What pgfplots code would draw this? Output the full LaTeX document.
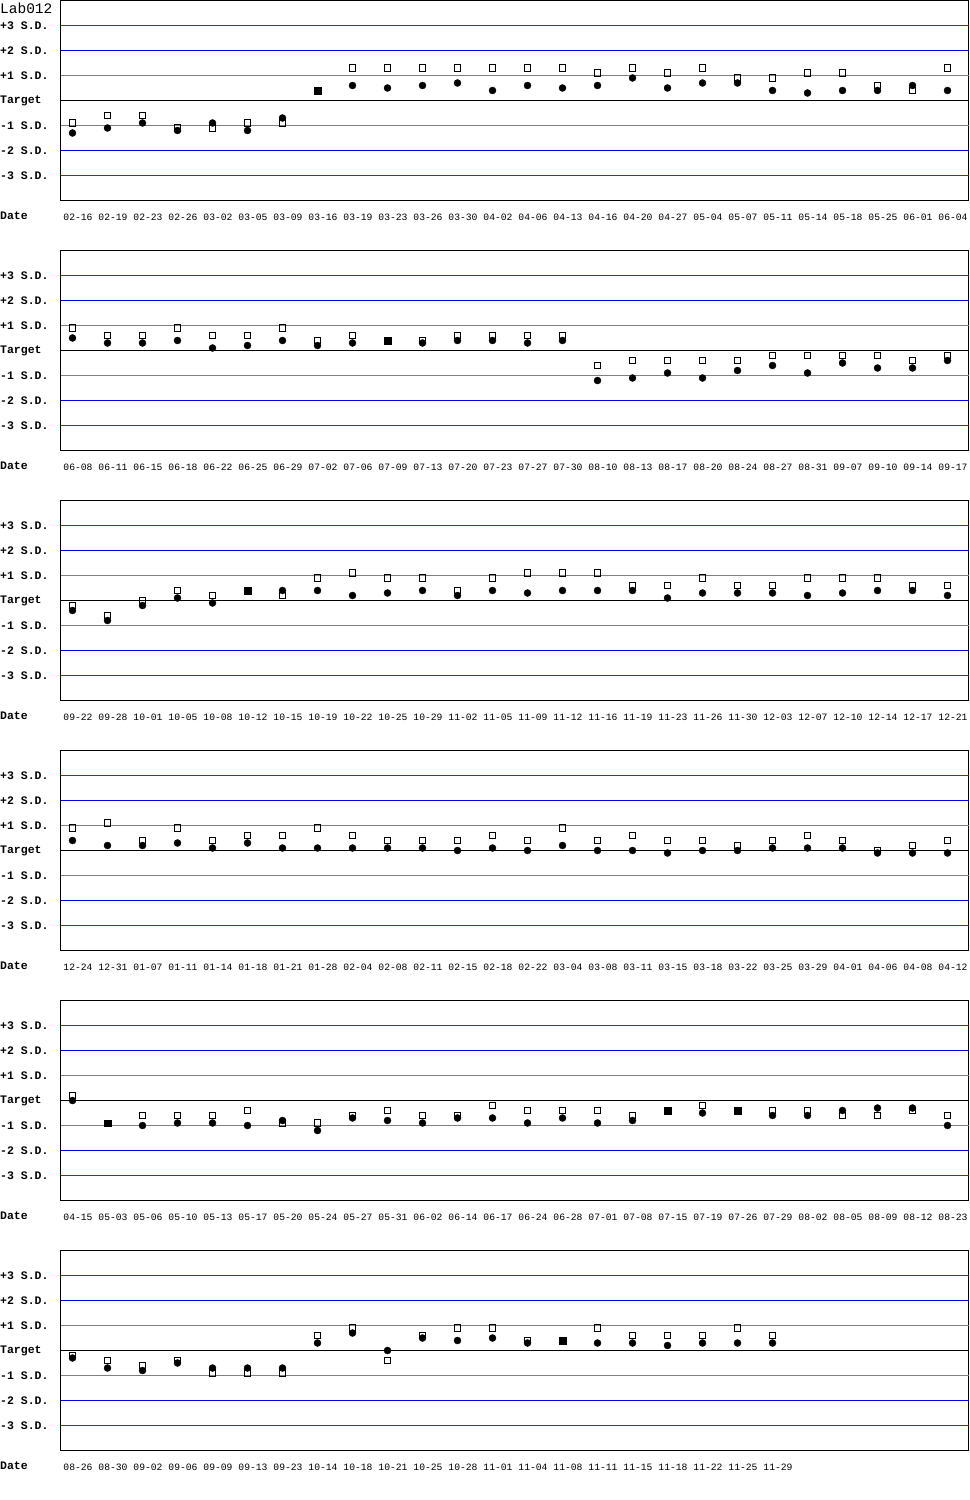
\documentclass[border=0pt]{standalone}
\usepackage{fontspec}
\setmainfont{Liberation Mono}
\usepackage{pgfplots}
\usepackage{pgfplotstable}
\pgfplotsset{compat=1.18}
\definecolor{qred}{RGB}{210,0,0}
\definecolor{qblue}{RGB}{0,0,230}
\definecolor{qgray}{RGB}{128,128,128}

\pgfplotstableread{
i sq ci fs
0 -0.9 -1.3 nan
1 -0.6 -1.1 nan
2 -0.6 -0.9 nan
3 -1.1 -1.2 nan
4 -1.1 -0.9 nan
5 -0.9 -1.2 nan
6 -0.9 -0.7 nan
7 nan nan 0.4
8 1.3 0.6 nan
9 1.3 0.5 nan
10 1.3 0.6 nan
11 1.3 0.7 nan
12 1.3 0.4 nan
13 1.3 0.6 nan
14 1.3 0.5 nan
15 1.1 0.6 nan
16 1.3 0.9 nan
17 1.1 0.5 nan
18 1.3 0.7 nan
19 0.9 0.7 nan
20 0.9 0.4 nan
21 1.1 0.3 nan
22 1.1 0.4 nan
23 0.6 0.4 nan
24 0.4 0.6 nan
25 1.3 0.4 nan
}\tA

\pgfplotstableread{
i sq ci fs
0 0.9 0.5 nan
1 0.6 0.3 nan
2 0.6 0.3 nan
3 0.9 0.4 nan
4 0.6 0.1 nan
5 0.6 0.2 nan
6 0.9 0.4 nan
7 0.4 0.2 nan
8 0.6 0.3 nan
9 nan nan 0.4
10 0.4 0.3 nan
11 0.6 0.4 nan
12 0.6 0.4 nan
13 0.6 0.3 nan
14 0.6 0.4 nan
15 -0.6 -1.2 nan
16 -0.4 -1.1 nan
17 -0.4 -0.9 nan
18 -0.4 -1.1 nan
19 -0.4 -0.8 nan
20 -0.2 -0.6 nan
21 -0.2 -0.9 nan
22 -0.2 -0.5 nan
23 -0.2 -0.7 nan
24 -0.4 -0.7 nan
25 -0.2 -0.4 nan
}\tB

\pgfplotstableread{
i sq ci fs
0 -0.2 -0.4 nan
1 -0.6 -0.8 nan
2 0.0 -0.2 nan
3 0.4 0.1 nan
4 0.2 -0.1 nan
5 nan nan 0.4
6 0.2 0.4 nan
7 0.9 0.4 nan
8 1.1 0.2 nan
9 0.9 0.3 nan
10 0.9 0.4 nan
11 0.4 0.2 nan
12 0.9 0.4 nan
13 1.1 0.3 nan
14 1.1 0.4 nan
15 1.1 0.4 nan
16 0.6 0.4 nan
17 0.6 0.1 nan
18 0.9 0.3 nan
19 0.6 0.3 nan
20 0.6 0.3 nan
21 0.9 0.2 nan
22 0.9 0.3 nan
23 0.9 0.4 nan
24 0.6 0.4 nan
25 0.6 0.2 nan
}\tC

\pgfplotstableread{
i sq ci fs
0 0.9 0.4 nan
1 1.1 0.2 nan
2 0.4 0.2 nan
3 0.9 0.3 nan
4 0.4 0.1 nan
5 0.6 0.3 nan
6 0.6 0.1 nan
7 0.9 0.1 nan
8 0.6 0.1 nan
9 0.4 0.1 nan
10 0.4 0.1 nan
11 0.4 0.0 nan
12 0.6 0.1 nan
13 0.4 0.0 nan
14 0.9 0.2 nan
15 0.4 0.0 nan
16 0.6 0.0 nan
17 0.4 -0.1 nan
18 0.4 0.0 nan
19 0.2 0.0 nan
20 0.4 0.1 nan
21 0.6 0.1 nan
22 0.4 0.1 nan
23 0.0 -0.1 nan
24 0.2 -0.1 nan
25 0.4 -0.1 nan
}\tD

\pgfplotstableread{
i sq ci fs
0 0.2 0.0 nan
1 nan nan -0.9
2 -0.6 -1.0 nan
3 -0.6 -0.9 nan
4 -0.6 -0.9 nan
5 -0.4 -1.0 nan
6 -0.9 -0.8 nan
7 -0.9 -1.2 nan
8 -0.6 -0.7 nan
9 -0.4 -0.8 nan
10 -0.6 -0.9 nan
11 -0.6 -0.7 nan
12 -0.2 -0.7 nan
13 -0.4 -0.9 nan
14 -0.4 -0.7 nan
15 -0.4 -0.9 nan
16 -0.6 -0.8 nan
17 nan nan -0.4
18 -0.2 -0.5 nan
19 nan nan -0.4
20 -0.4 -0.6 nan
21 -0.4 -0.6 nan
22 -0.6 -0.4 nan
23 -0.6 -0.3 nan
24 -0.4 -0.3 nan
25 -0.6 -1.0 nan
}\tE

\pgfplotstableread{
i sq ci fs
0 -0.2 -0.3 nan
1 -0.4 -0.7 nan
2 -0.6 -0.8 nan
3 -0.4 -0.5 nan
4 -0.9 -0.7 nan
5 -0.9 -0.7 nan
6 -0.9 -0.7 nan
7 0.6 0.3 nan
8 0.9 0.7 nan
9 -0.4 0.0 nan
10 0.6 0.5 nan
11 0.9 0.4 nan
12 0.9 0.5 nan
13 0.4 0.3 nan
14 nan nan 0.4
15 0.9 0.3 nan
16 0.6 0.3 nan
17 0.6 0.2 nan
18 0.6 0.3 nan
19 0.9 0.3 nan
20 0.6 0.3 nan
}\tF

\pgfplotsset{
  qc/.style={
    anchor=north west,
    width=908bp, height=200bp, scale only axis, clip=false,
    xmin=-0.343, xmax=25.6, ymin=-4, ymax=4,
    ytick={-3,-2,-1,0,1,2,3},
    yticklabels={-3 S.D.,-2 S.D.,-1 S.D.,Target,+1 S.D.,+2 S.D.,+3 S.D.},
    major tick length=0pt,
    axis line style={line width=1bp},
    xticklabel style={font=\fontsize{9.7bp}{10bp}\selectfont, anchor=north, inner sep=0pt, yshift=-13bp, xshift=5.5bp},
    yticklabel style={font=\bfseries\fontsize{11.5bp}{11.5bp}\selectfont, anchor=west, inner sep=0pt, xshift=-60.5bp},
  },
  sqm/.style={only marks, mark=square, mark size=3.3bp, mark options={draw=black, line width=1bp}},
  cim/.style={only marks, mark=*, mark size=3.5bp, mark options={draw=black, fill=black}},
  fsm/.style={only marks, mark=square*, mark size=3.3bp, mark options={draw=black, fill=black}},
}

\newcommand{\qclines}{%
  \draw[qred, line width=1bp] (rel axis cs:0,0.875) -- (rel axis cs:1,0.875);
  \draw[qblue, line width=1bp] (rel axis cs:0,0.75) -- (rel axis cs:1,0.75);
  \draw[qgray, line width=1bp] (rel axis cs:0,0.625) -- (rel axis cs:1,0.625);
  \draw[black, line width=1bp] (rel axis cs:0,0.5) -- (rel axis cs:1,0.5);
  \draw[qgray, line width=1bp] (rel axis cs:0,0.375) -- (rel axis cs:1,0.375);
  \draw[qblue, line width=1bp] (rel axis cs:0,0.25) -- (rel axis cs:1,0.25);
  \draw[qred, line width=1bp] (rel axis cs:0,0.125) -- (rel axis cs:1,0.125);
  \node[anchor=west, inner sep=0pt, font=\bfseries\fontsize{11.5bp}{11.5bp}\selectfont, xshift=-60.5bp, yshift=-15bp] at (rel axis cs:0,0) {Date};
}

\newcommand{\qcplots}[1]{%
  \addplot[sqm] table[x=i, y=sq] {#1};
  \addplot[cim] table[x=i, y=ci] {#1};
  \addplot[fsm] table[x=i, y=fs] {#1};
}

\begin{document}
\begin{tikzpicture}
\fill[white] (0,0) rectangle (970bp,-1500bp);
\useasboundingbox (0,0) rectangle (970bp,-1500bp);
\node[anchor=west, inner sep=0pt, font=\fontsize{14.5bp}{15bp}\selectfont] at (0bp,-8bp) {Lab012};

\begin{axis}[qc, at={(60.5bp,-0.5bp)}, xtick={0,...,25},
  xticklabels={02-16,02-19,02-23,02-26,03-02,03-05,03-09,03-16,03-19,03-23,03-26,03-30,04-02,04-06,04-13,04-16,04-20,04-27,05-04,05-07,05-11,05-14,05-18,05-25,06-01,06-04}]
\qclines
\qcplots{\tA}
\end{axis}

\begin{axis}[qc, at={(60.5bp,-250.5bp)}, xtick={0,...,25},
  xticklabels={06-08,06-11,06-15,06-18,06-22,06-25,06-29,07-02,07-06,07-09,07-13,07-20,07-23,07-27,07-30,08-10,08-13,08-17,08-20,08-24,08-27,08-31,09-07,09-10,09-14,09-17}]
\qclines
\qcplots{\tB}
\end{axis}

\begin{axis}[qc, at={(60.5bp,-500.5bp)}, xtick={0,...,25},
  xticklabels={09-22,09-28,10-01,10-05,10-08,10-12,10-15,10-19,10-22,10-25,10-29,11-02,11-05,11-09,11-12,11-16,11-19,11-23,11-26,11-30,12-03,12-07,12-10,12-14,12-17,12-21}]
\qclines
\qcplots{\tC}
\end{axis}

\begin{axis}[qc, at={(60.5bp,-750.5bp)}, xtick={0,...,25},
  xticklabels={12-24,12-31,01-07,01-11,01-14,01-18,01-21,01-28,02-04,02-08,02-11,02-15,02-18,02-22,03-04,03-08,03-11,03-15,03-18,03-22,03-25,03-29,04-01,04-06,04-08,04-12}]
\qclines
\qcplots{\tD}
\end{axis}

\begin{axis}[qc, at={(60.5bp,-1000.5bp)}, xtick={0,...,25},
  xticklabels={04-15,05-03,05-06,05-10,05-13,05-17,05-20,05-24,05-27,05-31,06-02,06-14,06-17,06-24,06-28,07-01,07-08,07-15,07-19,07-26,07-29,08-02,08-05,08-09,08-12,08-23}]
\qclines
\qcplots{\tE}
\end{axis}

\begin{axis}[qc, at={(60.5bp,-1250.5bp)}, xtick={0,...,20},
  xticklabels={08-26,08-30,09-02,09-06,09-09,09-13,09-23,10-14,10-18,10-21,10-25,10-28,11-01,11-04,11-08,11-11,11-15,11-18,11-22,11-25,11-29}]
\qclines
\qcplots{\tF}
\end{axis}
\end{tikzpicture}
\end{document}
